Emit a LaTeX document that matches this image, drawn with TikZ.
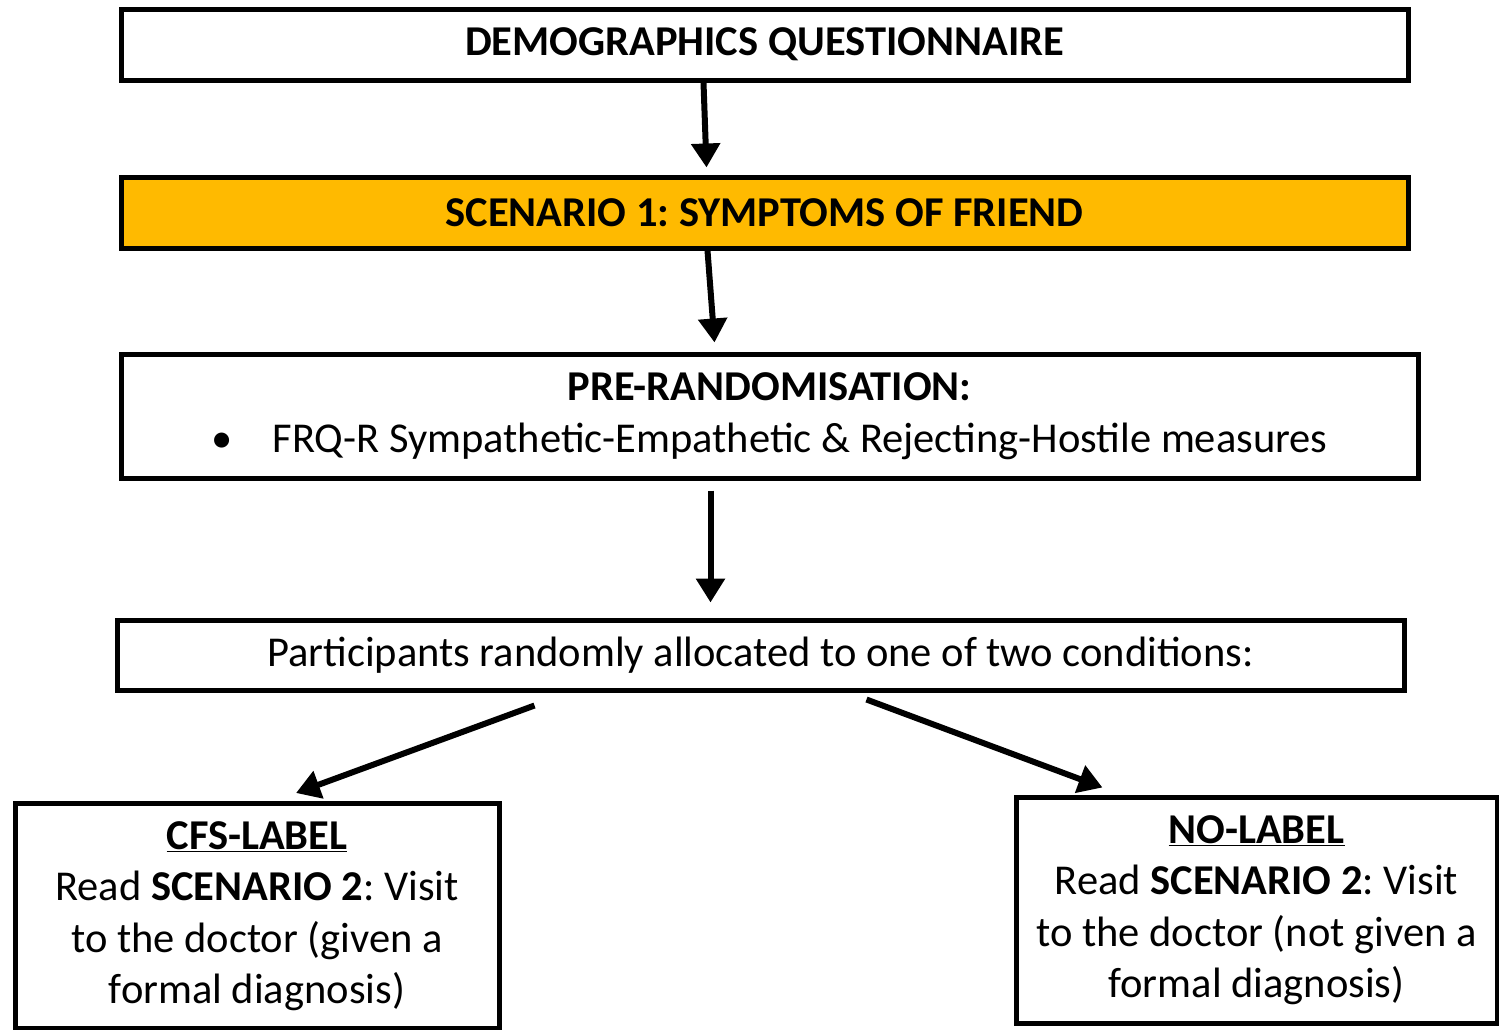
\documentclass[tikz,border=0pt]{standalone}
\usepackage{fontspec}
\setmainfont{Carlito}
\usepackage{xcolor}
\usepackage{tikz}
\usetikzlibrary{positioning,arrows.meta}

\definecolor{scengold}{RGB}{255,186,0}
\frenchspacing

\tikzset{
  box/.style={draw, line width=5pt, shape=rectangle, inner sep=0pt, align=center, font=\fontsize{42.5}{51.5}\selectfont},
  flow/.style={line width=6pt, -{Triangle[length=24pt,width=28pt]}}
}

\begin{document}
\begin{tikzpicture}[x=1pt, y=-1pt]
\useasboundingbox (0,0) rectangle (1499,1029);
\node[box, minimum width=1287pt, minimum height=71pt] (demo) at (764.5,44.5) {\textbf{DEMOGRAPHICS QUESTIONNAIRE}};
\node[box, fill=scengold, minimum width=1287pt, minimum height=71pt] (scen) at (764.5,212.5) {\textbf{SCENARIO 1: SYMPTOMS OF FRIEND}};
\node[box, minimum width=1297pt, minimum height=124pt] (pre) at (769.5,416) {\textbf{PRE-RANDOMISATION:}\\[0pt] •\hspace{40pt}FRQ-R Sympathetic-Empathetic \& Rejecting-Hostile measures};
\node[box, minimum width=1287pt, minimum height=70pt] (alloc) at (760.5,655) {Participants randomly allocated to one of two conditions:};
\node[box, minimum width=484pt, minimum height=225pt] (cfs) at (257,916) {\underline{\textbf{CFS-LABEL}}\\ Read \textbf{SCENARIO 2}: Visit\\ to the doctor (given a\\ formal diagnosis)};
\node[box, minimum width=481pt, minimum height=226pt] (nolab) at (1256.5,910) {\underline{\textbf{NO-LABEL}}\\ Read \textbf{SCENARIO 2}: Visit\\ to the doctor (not given a\\ formal diagnosis)};
\draw[flow] ([xshift=-61pt]demo.south) -- ([xshift=-58pt,yshift=7pt]scen.north);
\draw[flow] ([xshift=-57pt]scen.south) -- ([xshift=-55pt,yshift=9pt]pre.north);
\draw[flow] ([xshift=-59pt,yshift=-10pt]pre.south) -- ([xshift=-50pt,yshift=15pt]alloc.north);
\draw[flow] ([xshift=-226pt,yshift=-13pt]alloc.south) -- ([xshift=39pt,yshift=8pt]cfs.north);
\draw[flow] ([xshift=106pt,yshift=-7pt]alloc.south) -- ([xshift=-154pt,yshift=7pt]nolab.north);
\end{tikzpicture}
\end{document}
